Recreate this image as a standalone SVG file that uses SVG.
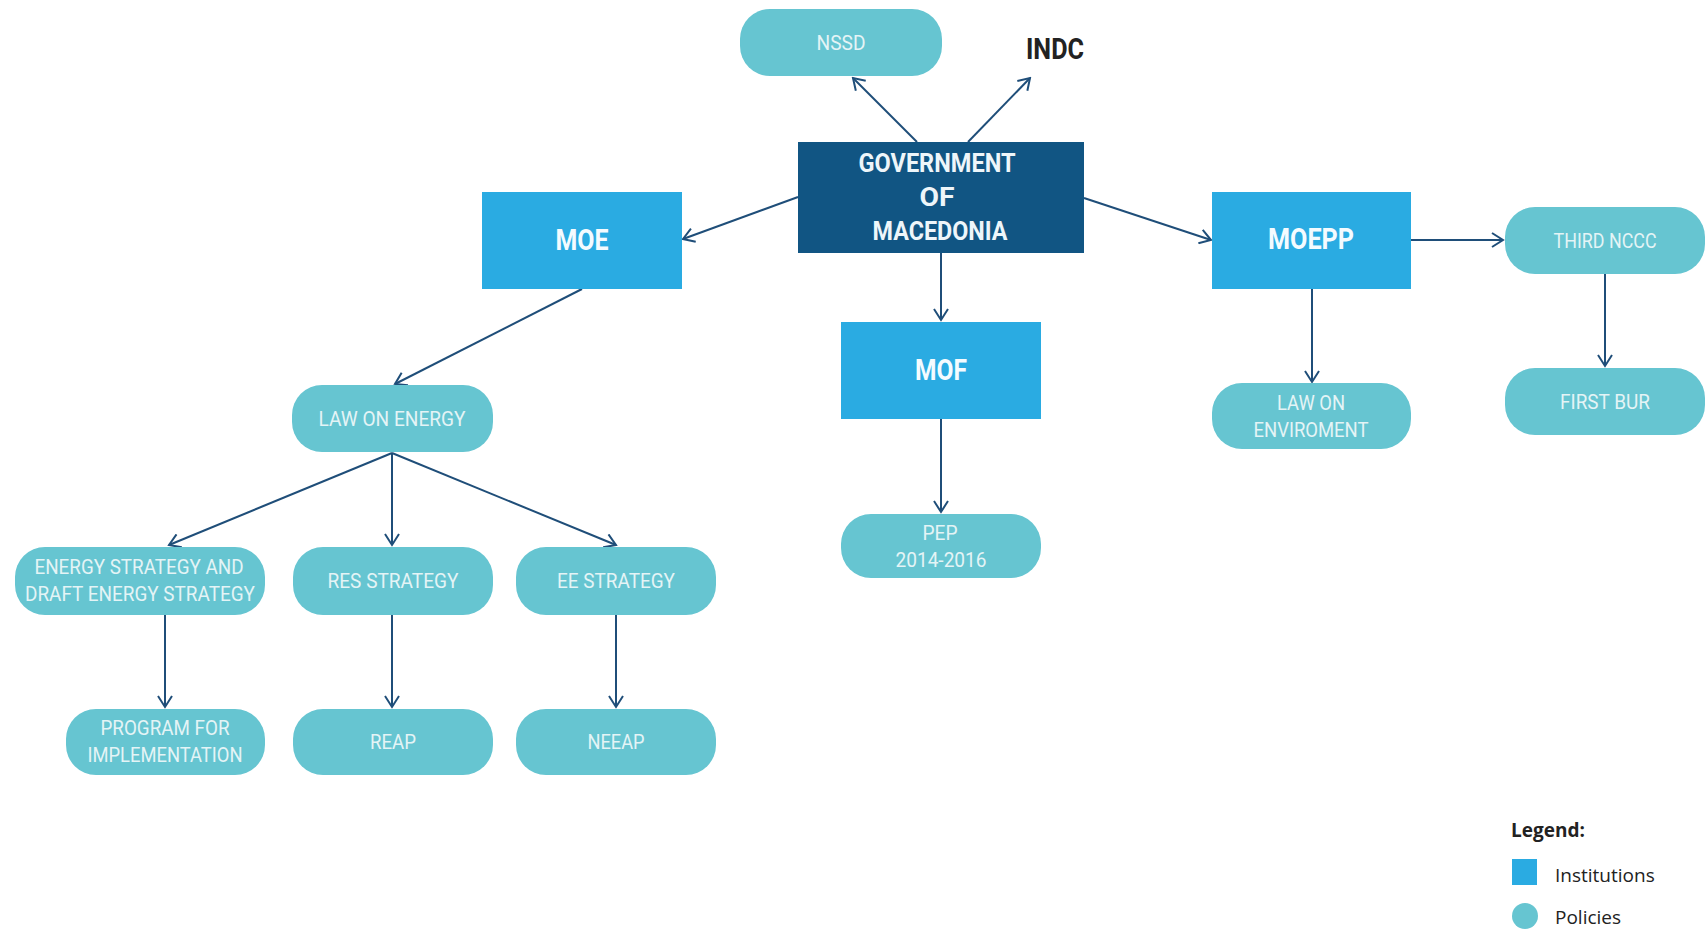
<svg xmlns="http://www.w3.org/2000/svg" width="1706" height="930" viewBox="0 0 1706 930">
<style>
.pill{fill:#66c5d1}
.inst{fill:#2aabe2}
.gov{fill:#115583}
.pt{font-family:Roboto,"Liberation Sans",sans-serif;font-size:21px;fill:#e4f4f6;text-anchor:middle}
.it{font-family:Roboto,"Liberation Sans",sans-serif;font-size:29px;font-weight:bold;fill:#f4fbff;text-anchor:middle}
.gt{font-family:Roboto,"Liberation Sans",sans-serif;font-size:26px;font-weight:bold;fill:#eef6fa;text-anchor:middle}
.conn line{stroke:#1f4e79;stroke-width:2;marker-end:url(#arr)}
.lg{font-family:"Open Sans","Liberation Sans",sans-serif;font-size:19px;fill:#222}
</style>
<defs>
<marker id="arr" markerUnits="userSpaceOnUse" viewBox="0 0 14 16" refX="12" refY="8" markerWidth="14" markerHeight="16" orient="auto">
<path d="M1,1 L12,8 L1,15" fill="none" stroke="#1f4e79" stroke-width="2"/>
</marker>
</defs>
<rect width="1706" height="930" fill="#ffffff"/>
<g id="connectors" class="conn">
<line x1="917" y1="142" x2="853" y2="78"/>
<line x1="968" y1="142" x2="1030" y2="78"/>
<line x1="798" y1="197" x2="683" y2="239"/>
<line x1="1084" y1="198" x2="1211" y2="240"/>
<line x1="941" y1="253" x2="941" y2="320"/>
<line x1="1411" y1="240" x2="1503" y2="240"/>
<line x1="1605" y1="274" x2="1605" y2="366"/>
<line x1="1312" y1="289" x2="1312" y2="382"/>
<line x1="582" y1="289" x2="395" y2="384"/>
<line x1="392" y1="453" x2="169" y2="545"/>
<line x1="392" y1="453" x2="392" y2="545"/>
<line x1="392" y1="453" x2="616" y2="545"/>
<line x1="165" y1="615" x2="165" y2="707"/>
<line x1="392" y1="615" x2="392" y2="707"/>
<line x1="616" y1="615" x2="616" y2="707"/>
<line x1="941" y1="419" x2="941" y2="512"/>
</g>
<g id="gov">
<rect class="gov" x="798" y="142" width="286" height="111"/>
<text class="gt" x="937" y="172" textLength="157" lengthAdjust="spacingAndGlyphs">GOVERNMENT</text>
<text class="gt" x="937" y="206" textLength="35" lengthAdjust="spacingAndGlyphs">OF</text>
<text class="gt" x="940" y="240" textLength="135" lengthAdjust="spacingAndGlyphs">MACEDONIA</text>
</g>
<g id="nssd">
<rect class="pill" x="740" y="9" width="202" height="67" rx="30"/>
<text class="pt" x="841" y="50" textLength="49" lengthAdjust="spacingAndGlyphs">NSSD</text>
</g>
<g id="indc">
<text x="1055" y="59" font-family="Roboto,'Liberation Sans',sans-serif" font-size="29" font-weight="bold" fill="#222" text-anchor="middle" textLength="58" lengthAdjust="spacingAndGlyphs">INDC</text>
</g>
<g id="moe">
<rect class="inst" x="482" y="192" width="200" height="97"/>
<text class="it" x="582" y="250" textLength="53" lengthAdjust="spacingAndGlyphs">MOE</text>
</g>
<g id="moepp">
<rect class="inst" x="1212" y="192" width="199" height="97"/>
<text class="it" x="1311" y="249" textLength="86" lengthAdjust="spacingAndGlyphs">MOEPP</text>
</g>
<g id="mof">
<rect class="inst" x="841" y="322" width="200" height="97"/>
<text class="it" x="941" y="380" textLength="52" lengthAdjust="spacingAndGlyphs">MOF</text>
</g>
<g id="thirdnccc">
<rect class="pill" x="1505" y="207" width="200" height="67" rx="30"/>
<text class="pt" x="1605" y="248" textLength="103" lengthAdjust="spacingAndGlyphs">THIRD NCCC</text>
</g>
<g id="firstbur">
<rect class="pill" x="1505" y="368" width="200" height="67" rx="30"/>
<text class="pt" x="1605" y="409" textLength="90" lengthAdjust="spacingAndGlyphs">FIRST BUR</text>
</g>
<g id="lawenv">
<rect class="pill" x="1212" y="383" width="199" height="66" rx="30"/>
<text class="pt" x="1311" y="410" textLength="68" lengthAdjust="spacingAndGlyphs">LAW ON</text>
<text class="pt" x="1311" y="437" textLength="115" lengthAdjust="spacingAndGlyphs">ENVIROMENT</text>
</g>
<g id="pep">
<rect class="pill" x="841" y="514" width="200" height="64" rx="30"/>
<text class="pt" x="940" y="540" textLength="35" lengthAdjust="spacingAndGlyphs">PEP</text>
<text class="pt" x="941" y="567" textLength="91" lengthAdjust="spacingAndGlyphs">2014-2016</text>
</g>
<g id="lawenergy">
<rect class="pill" x="292" y="385" width="201" height="67" rx="30"/>
<text class="pt" x="392" y="426" textLength="147" lengthAdjust="spacingAndGlyphs">LAW ON ENERGY</text>
</g>
<g id="energystrategy">
<rect class="pill" x="15" y="547" width="250" height="68" rx="30"/>
<text class="pt" x="139" y="574" textLength="209" lengthAdjust="spacingAndGlyphs">ENERGY STRATEGY AND</text>
<text class="pt" x="140" y="601" textLength="230" lengthAdjust="spacingAndGlyphs">DRAFT ENERGY STRATEGY</text>
</g>
<g id="resstrategy">
<rect class="pill" x="293" y="547" width="200" height="68" rx="30"/>
<text class="pt" x="393" y="588" textLength="131" lengthAdjust="spacingAndGlyphs">RES STRATEGY</text>
</g>
<g id="eestrategy">
<rect class="pill" x="516" y="547" width="200" height="68" rx="30"/>
<text class="pt" x="616" y="588" textLength="118" lengthAdjust="spacingAndGlyphs">EE STRATEGY</text>
</g>
<g id="program">
<rect class="pill" x="66" y="709" width="199" height="66" rx="30"/>
<text class="pt" x="165" y="735" textLength="129" lengthAdjust="spacingAndGlyphs">PROGRAM FOR</text>
<text class="pt" x="165" y="762" textLength="155" lengthAdjust="spacingAndGlyphs">IMPLEMENTATION</text>
</g>
<g id="reap">
<rect class="pill" x="293" y="709" width="200" height="66" rx="30"/>
<text class="pt" x="393" y="749" textLength="46" lengthAdjust="spacingAndGlyphs">REAP</text>
</g>
<g id="neeap">
<rect class="pill" x="516" y="709" width="200" height="66" rx="30"/>
<text class="pt" x="616" y="749" textLength="57" lengthAdjust="spacingAndGlyphs">NEEAP</text>
</g>
<g id="legend">
<text class="lg" x="1511" y="837" font-weight="bold">Legend:</text>
<rect class="inst" x="1512" y="859" width="25" height="26"/>
<text class="lg" x="1555" y="882">Institutions</text>
<circle class="pill" cx="1525" cy="916" r="13"/>
<text class="lg" x="1555" y="924">Policies</text>
</g>
</svg>
